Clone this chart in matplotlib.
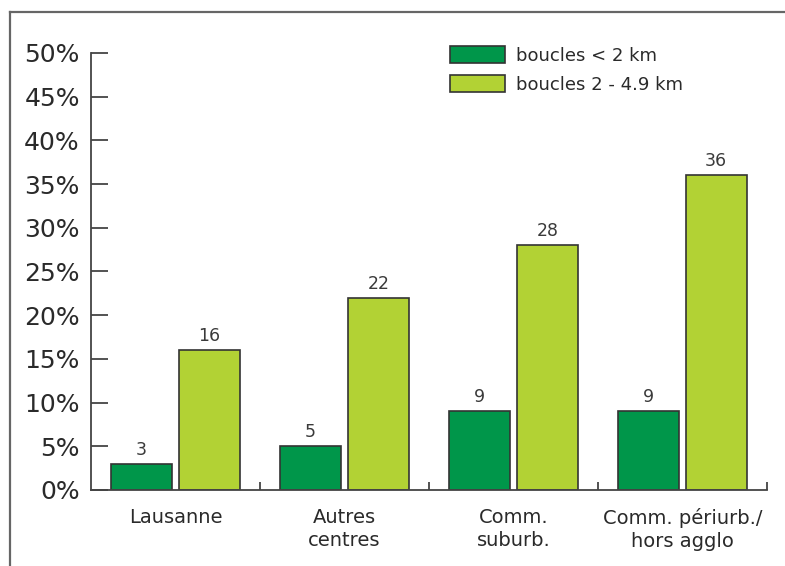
import numpy as np
import matplotlib.pyplot as plt
from matplotlib.lines import Line2D
from matplotlib.ticker import FixedLocator

# Share of trips by loop length and type of commune (%)
categories = ['Lausanne', 'Autres\ncentres', 'Comm.\nsuburb.', 'Comm. périurb./\nhors agglo']
short_loops = [3, 5, 9, 9]
medium_loops = [16, 22, 28, 36]
series_names = ['boucles < 2 km', 'boucles 2 - 4.9 km']
y_ticks = [0, 5, 10, 15, 20, 25, 30, 35, 40, 45, 50]

DARK_GREEN = '#00964a'
LIGHT_GREEN = '#b2d234'
EDGE = '#333333'
TEXT = '#2a2a2a'

plt.rcParams['font.family'] = ['DejaVu Sans']

fig = plt.figure(figsize=(7.85, 5.66), dpi=100)
ax = fig.add_axes([0.1159, 0.1343, 0.8611, 0.7721])

x = np.arange(len(categories))
width = 0.36
offset = 0.2

b1 = ax.bar(x - offset, short_loops, width, color=DARK_GREEN, edgecolor=EDGE,
            linewidth=1.2, label=series_names[0])
b2 = ax.bar(x + offset, medium_loops, width, color=LIGHT_GREEN, edgecolor=EDGE,
            linewidth=1.2, label=series_names[1])

for bars, vals in ((b1, short_loops), (b2, medium_loops)):
    for rect, v in zip(bars, vals):
        ax.annotate(str(v), (rect.get_x() + rect.get_width() / 2, v),
                    xytext=(0, 6.5), textcoords='offset points',
                    ha='center', va='baseline', fontsize=12.5, color='#3a3a3a')

ax.set_xlim(-0.5, len(categories) - 0.5)
ax.set_ylim(0, 50)

ax.set_yticks(y_ticks)
ax.set_yticklabels([f'{t}%' for t in y_ticks], fontsize=18, color=TEXT)
ax.tick_params(axis='y', direction='in', length=12.5, width=1.3, color='#444444', pad=8)

ax.set_xticks(x)
ax.set_xticklabels(categories, fontsize=14, color=TEXT, linespacing=1.28)
ax.tick_params(axis='x', which='major', length=0, pad=13)
ax.xaxis.set_minor_locator(FixedLocator(np.arange(0.5, len(categories), 1.0)))
ax.tick_params(axis='x', which='minor', direction='in', length=6, width=1.3, color='#444444')

for side in ('top', 'right'):
    ax.spines[side].set_visible(False)
for side in ('left', 'bottom'):
    ax.spines[side].set_color('#444444')
    ax.spines[side].set_linewidth(1.3)

fig.legend(handles=[b1, b2], labels=series_names, loc='upper left',
           bbox_to_anchor=(450 / 785, 1 - 46 / 566), frameon=False,
           fontsize=13, handlelength=3.05, handleheight=1.05,
           handletextpad=0.6, labelspacing=0.6, borderpad=0, borderaxespad=0,
           labelcolor=TEXT)

# outer frame, left and top edges only
fig.add_artist(Line2D([10 / 785, 10 / 785], [0, 1 - 12 / 566], transform=fig.transFigure,
                      color='#666666', linewidth=1.6))
fig.add_artist(Line2D([10 / 785, 1], [1 - 12 / 566, 1 - 12 / 566], transform=fig.transFigure,
                      color='#666666', linewidth=1.6))

fig.savefig('out.png', dpi=100)
